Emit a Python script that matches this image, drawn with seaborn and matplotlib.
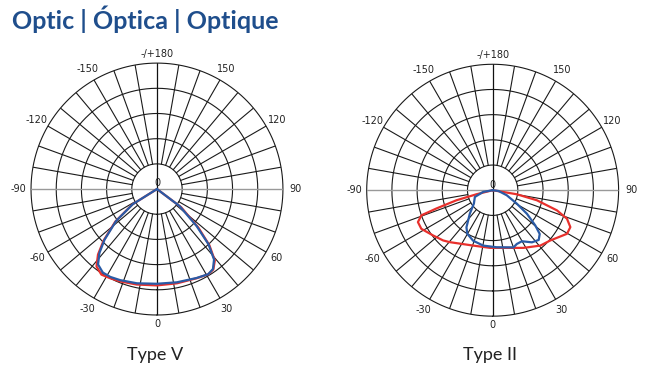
import matplotlib
matplotlib.use("Agg")
import matplotlib.pyplot as plt
import numpy as np
import pandas as pd
import seaborn as sns

# polar intensity curves (angle in degrees from nadir, radius relative to outer ring)
type_v_red_deg = [-61, -58, -52, -46, -42, -38, -33, -28, -22, -12, 0, 12, 24, 31, 35, 39, 43, 47, 53, 56]
type_v_red_r = [0, 0.23, 0.42, 0.59, 0.70, 0.78, 0.81, 0.80, 0.79, 0.775, 0.765, 0.765, 0.775, 0.79, 0.78, 0.73, 0.61, 0.45, 0.24, 0]
type_v_blue_deg = [-60, -58, -52, -46, -42, -38, -33, -28, -22, -12, 0, 12, 24, 31, 35, 39, 43, 47, 53, 56]
type_v_blue_r = [0, 0.226, 0.412, 0.579, 0.683, 0.76, 0.79, 0.79, 0.78, 0.765, 0.752, 0.757, 0.773, 0.789, 0.775, 0.72, 0.60, 0.43, 0.225, 0]

type_ii_red_deg = [-78, -76, -74.5, -72, -70.6, -66.9, -61.6, -52.8, -44.6, -39.6, -19.4, -2.7, 13.7, 28.1, 40.7, 48.9,
                   59.6, 64.6, 69, 72.6, 77.2, 80.5, 82]
type_ii_red_r = [0, 0.13, 0.298, 0.47, 0.60, 0.645, 0.644, 0.594, 0.56, 0.535, 0.466, 0.458, 0.471, 0.519, 0.58, 0.607,
                 0.684, 0.683, 0.632, 0.535, 0.36, 0.194, 0]
type_ii_blue_deg = [-85, -79.9, -69.3, -54.5, -44.2, -35.3, -30.3, -21.1, -9.6, 4, 20, 24.2, 29.8, 37, 42.8, 47.1, 50.4,
                    55.5, 60.9, 70.3, 83, 86]
type_ii_blue_r = [0, 0.076, 0.151, 0.183, 0.26, 0.36, 0.40, 0.43, 0.446, 0.454, 0.483, 0.468, 0.467, 0.518, 0.538, 0.51,
                  0.44, 0.33, 0.22, 0.119, 0.046, 0]

tick_angles = [0, 30, 60, 90, 120, 150, 180, -150, -120, -90, -60, -30]
tick_labels = ["0", "30", "60", "90", "120", "150", "-/+180", "-150", "-120", "-90", "-60", "-30"]
ring_radii = [0.2, 0.4, 0.6, 0.8, 1.0]

RED = "#e8302c"
BLUE = "#2a5ba6"
TITLE_BLUE = "#1f4e8c"

sns.set_style("white")
plt.rcParams["font.family"] = ["DejaVu Sans"]


def draw_polar(ax, red_deg, red_r, blue_deg, blue_r):
    ax.set_theta_zero_location("S")
    ax.set_theta_direction(1)
    ax.grid(False)
    ax.set_xticks([])
    ax.set_yticks([])
    ax.spines["polar"].set_visible(False)

    # grid: rings, 10 degree spokes, full vertical and horizontal axes
    full = np.linspace(0, 2 * np.pi, 361)
    for r in ring_radii:
        ax.plot(full, np.full_like(full, r), color="#1a1a1a", lw=0.8, zorder=1, clip_on=False)
    for a in range(0, 360, 10):
        if a % 90 == 0:
            continue
        t = np.deg2rad(a)
        ax.plot([t, t], [0.2, 1.0], color="#1a1a1a", lw=0.8, zorder=1)
    ax.plot([0, 0], [0, 1], color="#111111", lw=0.9, zorder=1)
    ax.plot([np.pi, np.pi], [0, 1], color="#111111", lw=0.9, zorder=1)
    ax.plot([np.pi / 2, np.pi / 2], [0, 1], color="#999999", lw=1.0, zorder=1)
    ax.plot([-np.pi / 2, -np.pi / 2], [0, 1], color="#999999", lw=1.0, zorder=1)

    for a, lab in zip(tick_angles, tick_labels):
        rr = 1.07 if a in (0, 180) else 1.1
        ax.text(np.deg2rad(a), rr, lab, ha="center", va="center", fontsize=7, color="#222222")
    ax.text(np.pi, 0.045, "0", ha="center", va="center", fontsize=7, color="#222222")

    red = pd.DataFrame({"theta": np.deg2rad(red_deg), "r": red_r})
    blue = pd.DataFrame({"theta": np.deg2rad(blue_deg), "r": blue_r})
    sns.lineplot(data=red, x="theta", y="r", sort=False, ax=ax, color=RED, lw=1.6, zorder=3)
    sns.lineplot(data=blue, x="theta", y="r", sort=False, ax=ax, color=BLUE, lw=1.6, zorder=4)
    ax.set_xlabel("")
    ax.set_ylabel("")
    ax.set_ylim(0, 1)


fig = plt.figure(figsize=(6.56, 3.89), dpi=100)
ax1 = fig.add_axes([0.0473, 0.190, 0.384, 0.648], projection="polar")
ax2 = fig.add_axes([0.559, 0.187, 0.384, 0.648], projection="polar")
draw_polar(ax1, type_v_red_deg, type_v_red_r, type_v_blue_deg, type_v_blue_r)
draw_polar(ax2, type_ii_red_deg, type_ii_red_r, type_ii_blue_deg, type_ii_blue_r)

fig.text(155 / 656, 1 - 355 / 389, "Type V", ha="center", va="center", fontsize=13, family="Lato", color="#222222")
fig.text(490 / 656, 1 - 355 / 389, "Type II", ha="center", va="center", fontsize=13, family="Lato", color="#222222")
fig.text(12 / 656, 1 - 19 / 389, "Optic | Óptica | Optique", ha="left", va="center", fontsize=18,
         family="Lato", weight="bold", color=TITLE_BLUE)

fig.savefig("out.png", dpi=100)
